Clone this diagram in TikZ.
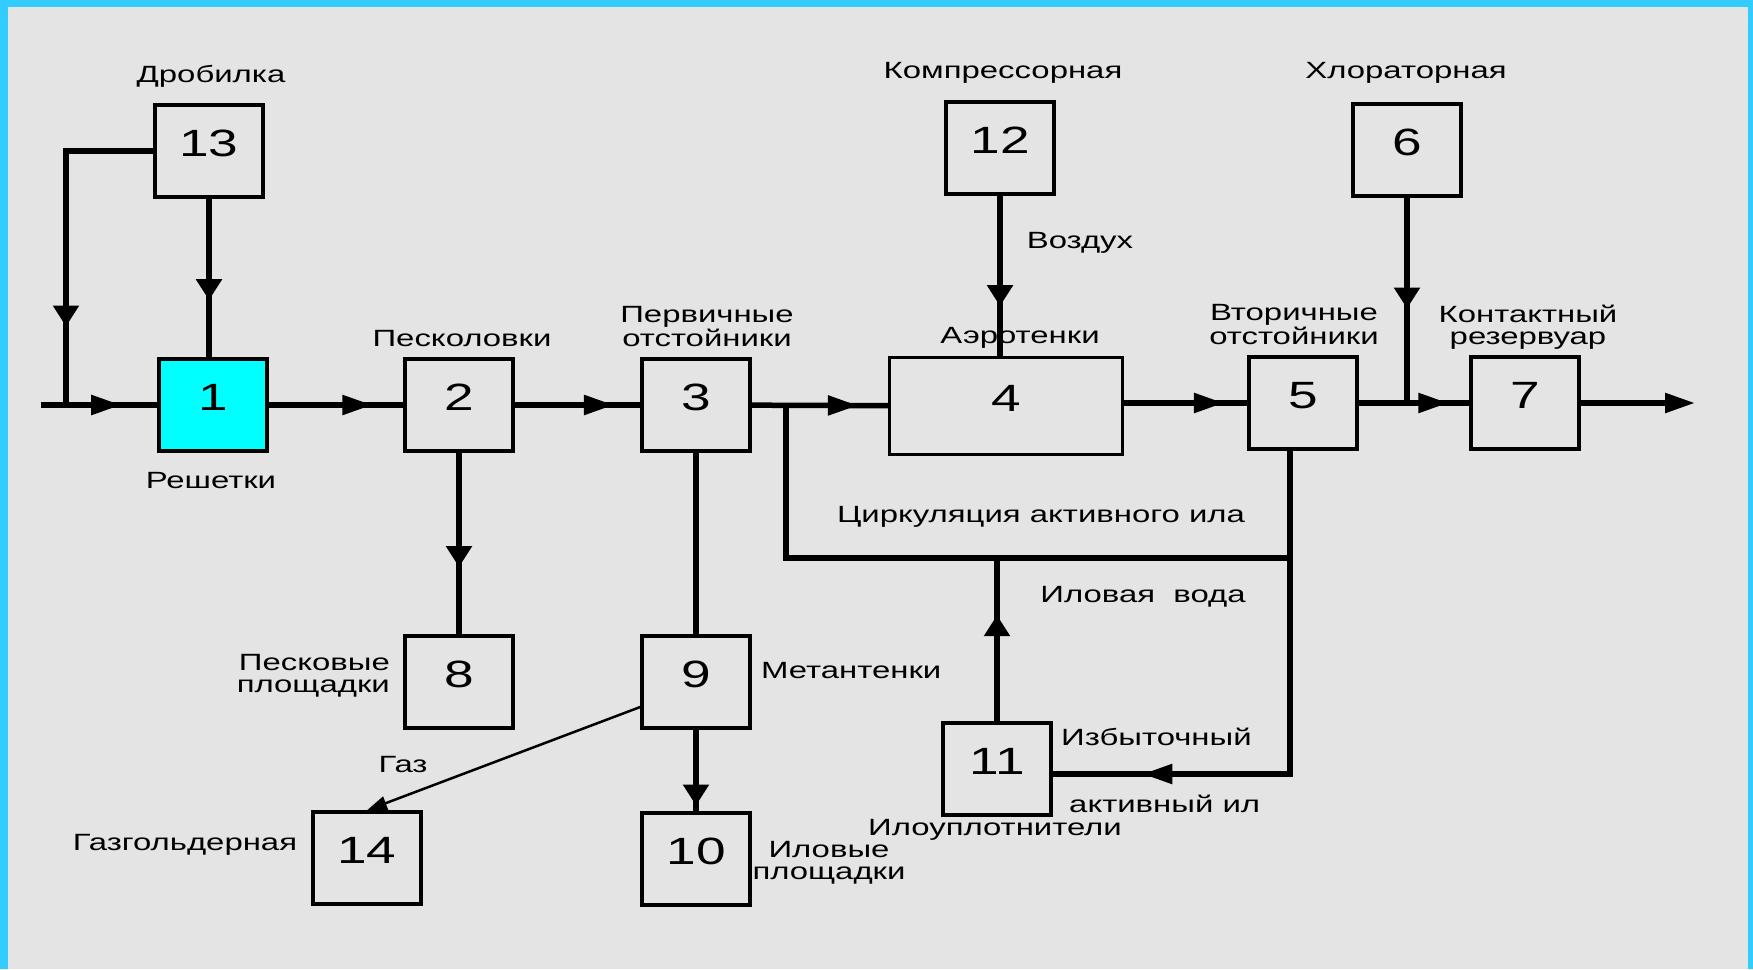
\documentclass[tikz,border=0pt]{standalone}
\usepackage{fontspec}
\setmainfont{Liberation Sans}[FakeStretch=1.4]
\usepackage{tikz}
\usetikzlibrary{arrows.meta,decorations.markings}

\definecolor{framecyan}{HTML}{33CCFF}
\definecolor{panelgrey}{HTML}{E4E4E4}
\definecolor{screencyan}{HTML}{00FFFF}

\tikzset{
  unit/.style={draw, line width=3.5pt, minimum width=108pt, minimum height=92pt,
    inner sep=0pt, text height=29pt, text depth=18pt, font=\fontsize{38}{40}\selectfont},
  txt/.style={font=\fontsize{23.5}{22}\selectfont, inner sep=0pt, align=center, anchor=base},
  flow/.style={line width=5.5pt},
  gasline/.style={line width=2.5pt},
  hmark/.style={postaction=decorate, decoration={markings,
    mark=at position #1 with {\arrow{Triangle[length=30pt,width=19pt]}}}},
  vmark/.style={postaction=decorate, decoration={markings,
    mark=at position #1 with {\arrow{Triangle[length=21pt,width=25pt]}}}}
}

\begin{document}
\begin{tikzpicture}[x=1pt,y=-1pt]
\fill[framecyan] (0,0) rectangle (1753,969);
\fill[panelgrey] (8,7) rectangle (1748,969);

% labels
\node[txt] (l13) at (211,82) {Дробилка};
\node[txt] (l1) at (211,488) {Решетки};
\node[txt] (l2) at (462,346) {Песколовки};
\node[txt] (l3) at (707,346) {Первичные\\отстойники};
\node[txt] (l4) at (1020,343) {Аэротенки};
\node[txt] (l12) at (1003,78) {Компрессорная};
\node[txt] (lair) at (1080,248) {Воздух};
\node[txt] (l5) at (1294,344) {Вторичные\\отстойники};
\node[txt] (l6) at (1406,78) {Хлораторная};
\node[txt] (l7) at (1528,344) {Контактный\\резервуар};
\node[txt, anchor=base east, align=right] (l8) at (390,692) {Песковые\\площадки};
\node[txt, anchor=base west] (l9) at (761,678) {Метантенки};
\node[txt] (l10) at (829,879) {Иловые\\площадки};
\node[txt] (lgas) at (403,772) {Газ};
\node[txt] (l14) at (185,850) {Газгольдерная};
\node[txt] (lcirc) at (1041,522) {Циркуляция активного ила};
\node[txt] (lwater) at (1143,602) {Иловая\ \ вода};
\node[txt, anchor=base west] (lex1) at (1061,745) {Избыточный};
\node[txt, anchor=base west] (lex2) at (1069,812) {активный ил};
\node[txt] (l11) at (995,835) {Илоуплотнители};

% units
\node[unit, fill=screencyan] (b1) at (213,405) {1};
\node[unit] (b2) at (459,405) {2};
\node[unit] (b3) at (696,405) {3};
\node[unit, minimum width=233pt, minimum height=97pt] (b4) at (1006,406) {4};
\node[unit] (b5) at (1303,403) {5};
\node[unit] (b6) at (1407,150) {6};
\node[unit] (b7) at (1525,403) {7};
\node[unit] (b8) at (459,682) {8};
\node[unit] (b9) at (696,682) {9};
\node[unit] (b10) at (696,859) {10};
\node[unit] (b11) at (997,769) {11};
\node[unit] (b12) at (1000,148) {12};
\node[unit] (b13) at (209,151) {13};
\node[unit] (b14) at (367,858) {14};

\coordinate (in) at (41,405);
\coordinate (jn) at (66,405);
\coordinate (out) at (1695,403);
\coordinate (br) at (786,405);
\coordinate (cr) at (1290,558);
\coordinate (ex) at (1290,774);

% main flow
\draw[flow, hmark=0.69] (in) -- (b1);
\draw[flow, vmark=0.77] (b13.west) -| (jn);
\draw[flow, vmark=0.64] (b13) -- (b13 |- b1.north);
\draw[flow, hmark=0.77] (b1) -- (b2);
\draw[flow, hmark=0.79] (b2) -- (b3);
\draw[flow, hmark=0.78] (b3) -- (b4);
\draw[flow, hmark=0.81] (b4.east |- b5) -- (b5);
\draw[flow, hmark=0.81] (b5) -- (b7);
\draw[flow, -{Triangle[length=30pt,width=19pt]}] (b7) -- (out);
\draw[flow, vmark=0.69] (b12) -- (b12 |- b4.north);
\draw[flow, vmark=0.54] (b6) -- (b6 |- b7);

% sludge
\draw[flow, vmark=0.63] (b2) -- (b8);
\draw[flow] (b3) -- (b9);
\draw[flow, vmark=0.93] (b9) -- (b10);
\draw[gasline, -{Triangle[length=20pt,width=14pt]}] ([yshift=-25pt]b9.west) -- (b14.north);
\draw[flow] (br) |- (cr);
\draw[flow, hmark=0.84] (ex |- b5.south) |- (b11.east |- ex);
\draw[flow, vmark=0.65] (b11) -- (b11 |- cr);
\end{tikzpicture}
\end{document}
